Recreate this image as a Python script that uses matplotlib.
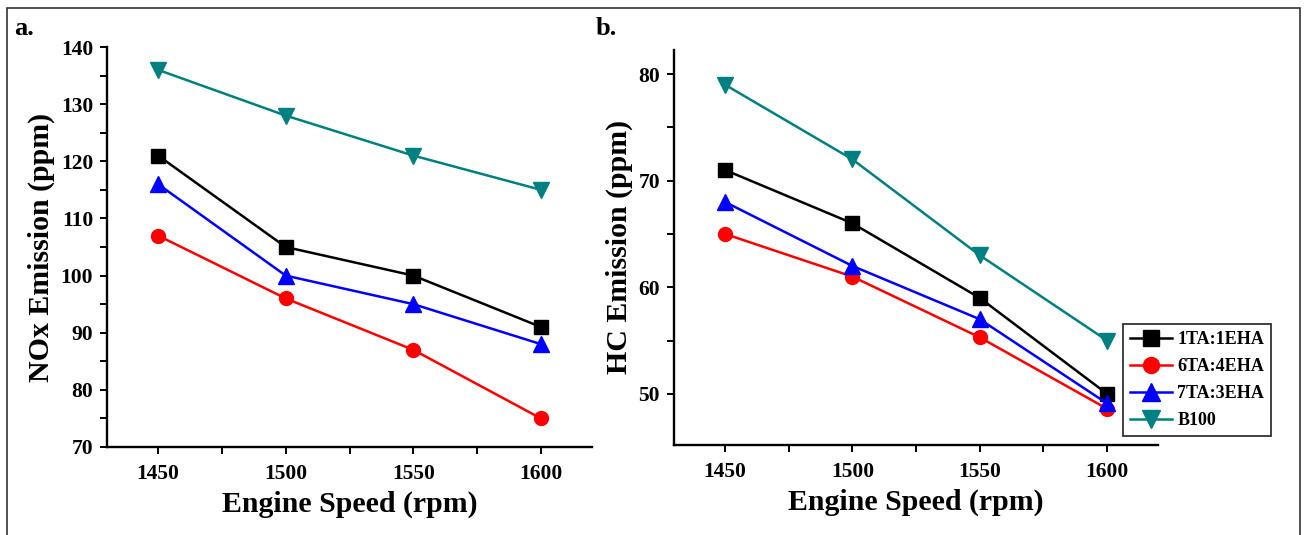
import matplotlib
matplotlib.use("Agg")
import matplotlib.pyplot as plt
from matplotlib.ticker import MultipleLocator
from matplotlib.patches import Rectangle

plt.rcParams['font.family'] = ['Liberation Serif', 'DejaVu Serif']
plt.rcParams['font.weight'] = 'bold'

speeds = [1450, 1500, 1550, 1600]
series_names = ["1TA:1EHA", "6TA:4EHA", "7TA:3EHA", "B100"]
nox_1ta1eha = [121, 105, 100, 91]
nox_6ta4eha = [107, 96, 87, 75]
nox_7ta3eha = [116, 100, 95, 88]
nox_b100 = [136, 128, 121, 115]
hc_1ta1eha = [71, 66, 59, 50]
hc_6ta4eha = [65, 61, 55.3, 48.6]
hc_7ta3eha = [68, 62, 57, 49.1]
hc_b100 = [79, 72, 63, 55]

colors = ['#000000', '#ff0000', '#0000ff', '#008080']
markers = ['s', 'o', '^', 'v']
msizes = [9.5, 10, 11.5, 11.5]

W, H = 1306, 535
fig = plt.figure(figsize=(W / 100, H / 100), dpi=100)

def fx(px):
    return px / W

def fy(py):
    return 1 - py / H

axa = fig.add_axes([fx(107), fy(447), fx(592 - 107), (447 - 47) / H])
axb = fig.add_axes([fx(674), fy(445), fx(1158 - 674), (445 - 49.5) / H])

def style(ax):
    for s in ['top', 'right']:
        ax.spines[s].set_visible(False)
    for s in ['left', 'bottom']:
        ax.spines[s].set_linewidth(1.7)
    ax.set_xlim(1430, 1620)
    ax.set_xticks(speeds)
    ax.xaxis.set_minor_locator(MultipleLocator(25))
    ax.yaxis.set_minor_locator(MultipleLocator(5))
    ax.tick_params(which='major', direction='out', length=5, width=1.4, labelsize=15.5, pad=5)
    ax.tick_params(axis='x', which='major', pad=7)
    ax.tick_params(which='minor', direction='out', length=5, width=1.4)
    for lab in ax.get_xticklabels() + ax.get_yticklabels():
        lab.set_fontweight('bold')
    ax.set_xlabel('Engine Speed (rpm)', fontsize=21.5, fontweight='bold', labelpad=5)

nox = [nox_1ta1eha, nox_6ta4eha, nox_7ta3eha, nox_b100]
hc = [hc_1ta1eha, hc_6ta4eha, hc_7ta3eha, hc_b100]

for vals, c, m, ms, n in zip(nox, colors, markers, msizes, series_names):
    axa.plot(speeds, vals, color=c, marker=m, markersize=ms, linewidth=1.8, label=n)
lines = []
for vals, c, m, ms, n in zip(hc, colors, markers, msizes, series_names):
    ln, = axb.plot(speeds, vals, color=c, marker=m, markersize=ms, linewidth=1.8, label=n)
    lines.append(ln)

axa.set_ylim(70, 140)
axa.set_yticks(range(70, 141, 10))
axb.set_ylim(45.2, 82.3)
axb.set_yticks([50, 60, 70, 80])
style(axa)
style(axb)
axa.set_ylabel('NOx Emission (ppm)', fontsize=21.5, fontweight='bold', labelpad=4)
axb.set_ylabel('HC Emission (ppm)', fontsize=21.5, fontweight='bold', labelpad=4)

leg = fig.legend(handles=lines, labels=series_names, loc='upper left',
                 bbox_to_anchor=(fx(1123), fy(324)), frameon=True, fancybox=False,
                 edgecolor='black', fontsize=13, handlelength=2.3, borderpad=0.4,
                 labelspacing=0.55, handletextpad=0.3, borderaxespad=0, markerscale=1.15)
leg.get_frame().set_linewidth(1.3)
for t in leg.get_texts():
    t.set_fontweight('bold')

fig.text(fx(14), fy(35), 'a.', fontsize=19, fontweight='bold')
fig.text(fx(596), fy(35), 'b.', fontsize=19, fontweight='bold')

fig.patches.append(Rectangle((fx(7), -0.05), fx(1300 - 7), fy(8) + 0.05,
                             transform=fig.transFigure, fill=False,
                             edgecolor='#333333', linewidth=1.2))

fig.savefig('out.png', dpi=100)
